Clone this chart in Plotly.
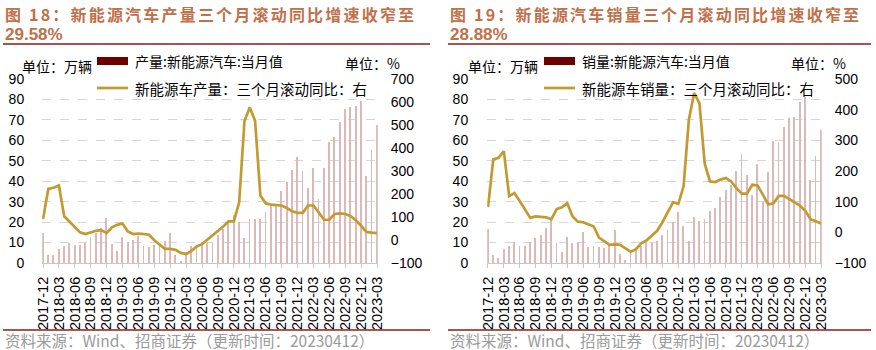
import pandas as pd
import plotly.graph_objects as go

# ---------------- data ----------------
months = [str(p) for p in pd.period_range("2017-12", "2023-03", freq="M")]
tick_labels = months[::3]

prod_month = [14.7,
              4.1, 3.9, 6.8, 8.2, 9.6, 8.6, 9.0, 9.9, 12.7, 14.6, 17.3, 21.9,
              9.1, 5.9, 12.8, 10.2, 11.2, 13.4, 8.4, 7.9, 8.9, 9.5, 10.6, 14.9,
              4.0, 0.9, 5.2, 8.1, 8.3, 10.2, 10.0, 10.5, 13.6, 16.4, 19.8, 23.5,
              20.0, 12.4, 21.7, 21.6, 21.7, 24.8, 28.4, 28.8, 35.3, 39.7, 45.7, 51.8,
              45.2, 36.8, 46.5, 31.2, 46.6, 59.0, 61.7, 69.1, 75.5, 76.2, 76.8, 79.4,
              42.5, 55.2, 67.4]
prod_yoy3 = [91,
             222, 227, 237, 103, 81, 55, 33, 26, 33, 40, 43, 30,
             55, 66, 72, 37, 26, 28, 26, 23, -1, -21, -39, -39,
             -43, -56, -61, -47, -28, -18, 1, 18, 40, 59, 81, 81,
             164, 517, 576, 519, 193, 160, 154, 153, 150, 139, 125, 118,
             118, 150, 150, 120, 88, 88, 113, 116, 113, 105, 86, 62,
             35, 32, 29.58]

sales_month = [16.8,
               3.8, 2.5, 6.8, 8.2, 10.2, 8.4, 8.4, 10.1, 12.1, 13.8, 16.9, 22.2,
               9.6, 5.3, 12.6, 9.7, 10.4, 15.2, 8.0, 8.5, 8.0, 7.5, 9.5, 16.3,
               4.4, 1.3, 5.3, 7.2, 8.2, 10.4, 9.8, 10.9, 13.8, 16.0, 20.0, 24.8,
               17.9, 11.0, 22.6, 20.6, 21.7, 25.6, 27.1, 32.1, 35.7, 38.3, 45.0, 53.1,
               43.1, 33.4, 48.4, 29.9, 44.7, 59.6, 59.3, 66.6, 70.8, 71.4, 78.6, 81.4,
               40.8, 52.5, 65.3]
sales_yoy3 = [82,
              238, 243, 265, 118, 128, 102, 73, 47, 52, 51, 49, 43,
              76, 82, 95, 52, 35, 33, 27, 19, -17, -30, -41, -39,
              -41, -52, -63, -55, -36, -26, -11, 5, 33, 68, 98, 93,
              150, 367, 454, 421, 224, 166, 164, 172, 177, 166, 144, 126,
              126, 155, 153, 123, 91, 95, 119, 119, 109, 98, 87, 71,
              43, 36, 28.88]

# ---------------- style ----------------
W, H = 876, 350
BAR_C = "#dcb8b8"
LINE_C = "#C29A30"
TITLE_C = "#C0704A"
RULE_C = "#8B1A1A"
GRID_C = "#d6d6d6"
NUM_FONT = "Liberation Sans, Arial, sans-serif"
CJK_FONT = "Noto Sans CJK SC, sans-serif"


def px(x):
    return x / W


def py(y):
    return 1 - y / H


fig = go.Figure()

panels = [
    dict(xa="x", ya="y", ya2="y2", bars=prod_month, line=prod_yoy3,
         x0=42.2, x1=377.8, rng2=[-100, 700],
         bar_name="产量:新能源汽车:当月值", line_name="新能源车产量：三个月滚动同比：右",
         title1="图 18：新能源汽车产量三个月滚动同比增速收窄至", title2="29.58%",
         left=3, right=430, unit_l=20, sw=97, unit_r=343, std_l=17),
    dict(xa="x2", ya="y3", ya2="y4", bars=sales_month, line=sales_yoy3,
         x0=487.2, x1=821.8, rng2=[-100, 500],
         bar_name="销量:新能源汽车:当月值", line_name="新能源车销量：三个月滚动同比：右",
         title1="图 19：新能源汽车销量三个月滚动同比增速收窄至", title2="28.88%",
         left=448, right=871, unit_l=466, sw=544, unit_r=789, std_l=18),
]

y_top, y_bot = 79, 263
layout_axes = {}
annotations = []
shapes = []

for i, p in enumerate(panels):
    fig.add_trace(go.Bar(x=months, y=p["bars"], marker=dict(color=BAR_C, line=dict(width=0)),
                         width=0.16, xaxis=p["xa"], yaxis=p["ya"], showlegend=False,
                         name=p["bar_name"]))
    fig.add_trace(go.Scatter(x=months, y=p["line"], mode="lines",
                             line=dict(color=LINE_C, width=2.7), xaxis=p["xa"], yaxis=p["ya2"],
                             showlegend=False, name=p["line_name"]))

    xk = "xaxis" if i == 0 else "xaxis2"
    yk = "yaxis" if i == 0 else "yaxis3"
    y2k = "yaxis2" if i == 0 else "yaxis4"
    layout_axes[xk] = dict(
        domain=[px(p["x0"]), px(p["x1"])], anchor=p["ya"], type="category",
        range=[-0.15, len(months) - 1 + 0.15], automargin=False,
        tickmode="array", tickvals=tick_labels, ticktext=tick_labels,
        tickangle=-90, tickfont=dict(family=NUM_FONT, size=14.5, color="#000"),
        ticks="outside", ticklen=4, tickcolor="#c8c8c8",
        showline=True, linecolor="#c8c8c8", linewidth=1, showgrid=False, zeroline=False,
        ticklabelstandoff=3,
    )
    layout_axes[yk] = dict(
        domain=[py(y_bot), py(y_top)], anchor=p["xa"], range=[0, 90], dtick=10,
        automargin=False,
        tickfont=dict(family=NUM_FONT, size=14, color="#000"),
        showgrid=True, gridcolor=GRID_C, griddash="dash", gridwidth=1,
        zeroline=False, showline=False, ticks="", ticklabelstandoff=p["std_l"],
    )
    layout_axes[y2k] = dict(
        overlaying=p["ya"], anchor=p["xa"], side="right", range=p["rng2"], dtick=100,
        automargin=False,
        tickfont=dict(family=NUM_FONT, size=14, color="#000"),
        showgrid=False, zeroline=False, showline=False, ticks="", ticklabelstandoff=12,
    )

    L = p["left"]
    # titles
    annotations.append(dict(
        x=px(L), y=py(14), xref="paper", yref="paper", xanchor="left", yanchor="middle",
        text='<span style="letter-spacing:2.2px">' + p["title1"] + "</span>", showarrow=False,
        font=dict(family=CJK_FONT, size=16, color=TITLE_C, weight="bold")))
    annotations.append(dict(
        x=px(L), y=py(34), xref="paper", yref="paper", xanchor="left", yanchor="middle",
        text=p["title2"], showarrow=False,
        font=dict(family=NUM_FONT, size=17, color=TITLE_C, weight="bold")))
    shapes.append(dict(type="line", xref="paper", yref="paper", x0=px(L), x1=px(p["right"]),
                       y0=py(44), y1=py(44), line=dict(color=RULE_C, width=1.6)))
    shapes.append(dict(type="line", xref="paper", yref="paper", x0=px(L), x1=px(p["right"]),
                       y0=py(330), y1=py(330), line=dict(color=RULE_C, width=1.6)))
    annotations.append(dict(
        x=px(L), y=py(340), xref="paper", yref="paper", xanchor="left", yanchor="middle",
        text="资料来源：Wind、招商证券（更新时间：20230412）",
        showarrow=False, font=dict(family=CJK_FONT, size=15.5, color="#9a9a9a")))

    # units
    annotations.append(dict(
        x=px(p["unit_l"]), y=py(66), xref="paper", yref="paper", xanchor="left", yanchor="middle",
        text="单位：万辆", showarrow=False, font=dict(family=CJK_FONT, size=14, color="#000")))
    annotations.append(dict(
        x=px(p["unit_r"]), y=py(63), xref="paper", yref="paper", xanchor="left", yanchor="middle",
        text="单位：%", showarrow=False, font=dict(family=CJK_FONT, size=14, color="#000")))

    # legend
    sw = p["sw"]
    shapes.append(dict(type="rect", xref="paper", yref="paper", x0=px(sw), x1=px(sw + 31),
                       y0=py(65), y1=py(57), fillcolor="#6B0000", line=dict(width=0)))
    annotations.append(dict(
        x=px(sw + 36), y=py(61), xref="paper", yref="paper", xanchor="left", yanchor="middle",
        text=p["bar_name"], showarrow=False, font=dict(family=CJK_FONT, size=14, color="#000")))
    shapes.append(dict(type="line", xref="paper", yref="paper", x0=px(sw), x1=px(sw + 31),
                       y0=py(88), y1=py(88), line=dict(color=LINE_C, width=2.7)))
    annotations.append(dict(
        x=px(sw + 36), y=py(88), xref="paper", yref="paper", xanchor="left", yanchor="middle",
        text=p["line_name"], showarrow=False, font=dict(family=CJK_FONT, size=14.5, color="#000")))

fig.update_layout(
    width=W, height=H, margin=dict(l=0, r=0, t=0, b=0, autoexpand=False),
    paper_bgcolor="white", plot_bgcolor="white",
    bargap=0, barmode="overlay",
    annotations=annotations, shapes=shapes, showlegend=False,
    **layout_axes,
)

fig.write_html("out.html")
